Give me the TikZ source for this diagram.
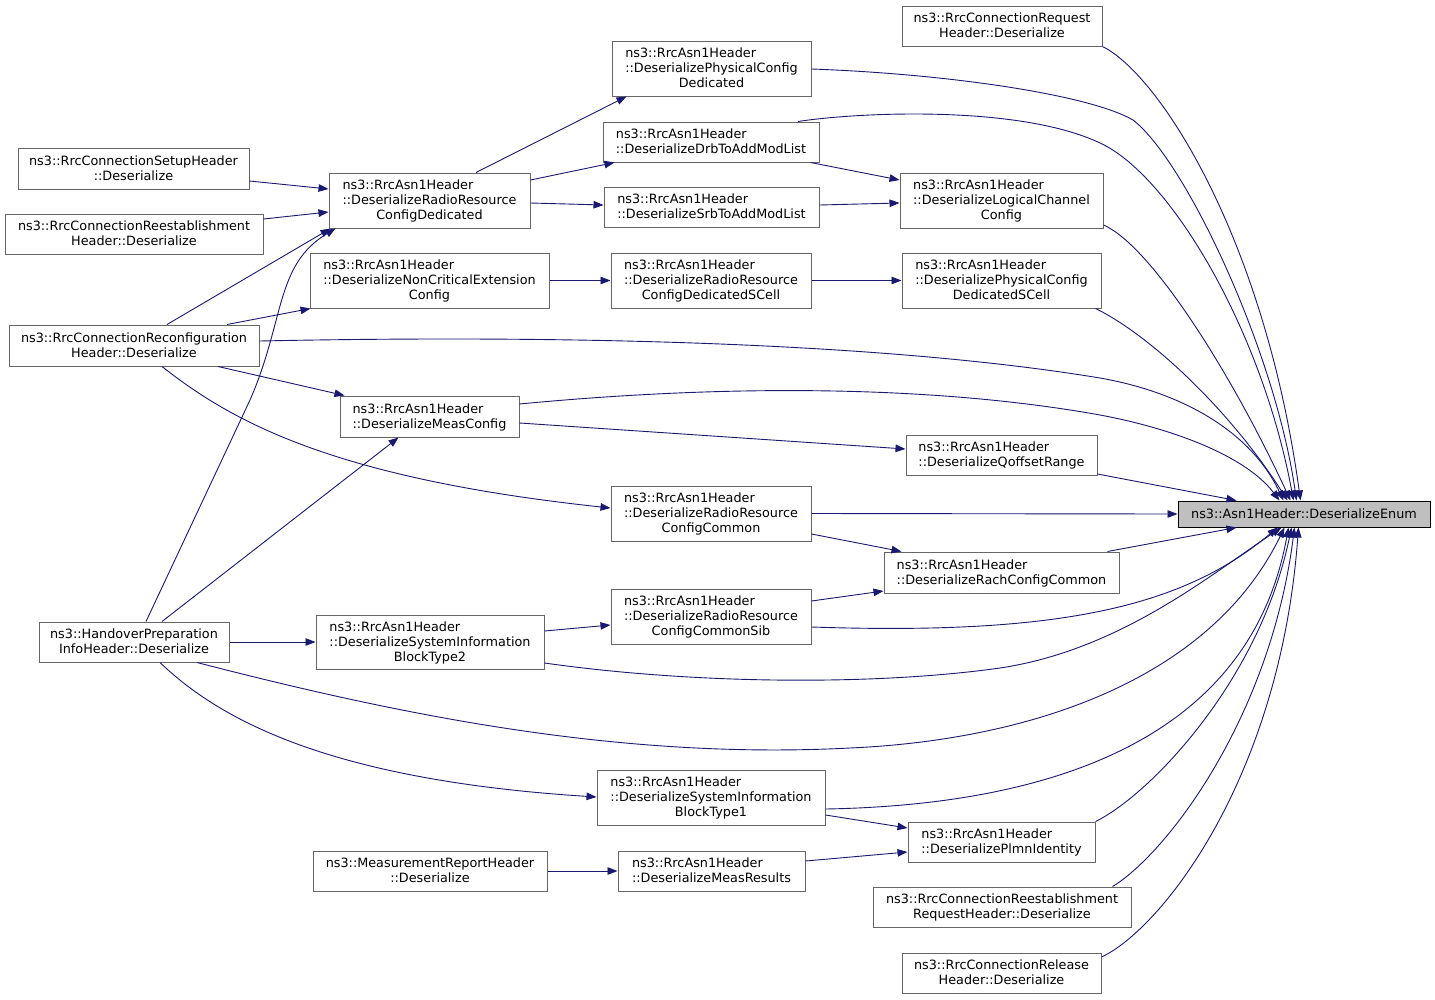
\documentclass[tikz,border=0pt]{standalone}
\usepackage{fontspec}
\setmainfont{DejaVu Sans}
\usetikzlibrary{arrows.meta}
\definecolor{edgeblue}{HTML}{191970}
\definecolor{boxgray}{HTML}{666666}
\definecolor{rootfill}{HTML}{BFBFBF}
\newcommand{\dxl}[1]{\multicolumn{1}{@{}l@{}}{#1}\\}
\newcommand{\doxlab}[2]{\raisebox{0pt}[\dimexpr\height+2pt\relax][\depth]{\begin{tabular}{@{}c@{}}#1#2\end{tabular}}}
\begin{document}
\begin{tikzpicture}[x=1pt,y=-1pt,
  dbox/.style={draw=boxgray, line width=1pt, fill=white, inner sep=1pt, align=center, text=black,
    font=\fontsize{12.8}{15}\selectfont},
  rootbox/.style={dbox, draw=black, fill=rootfill},
  ed/.style={draw=edgeblue, line width=0.9pt, -{Triangle[length=10pt,width=7.5pt]}}]
\useasboundingbox[fill=white] (0,0) rectangle (1435,999);

% nodes
\node[dbox, minimum width=200pt, minimum height=40pt] (req) at (1002,26) {\doxlab{\dxl{ns3::RrcConnectionRequest}}{Header::Deserialize}};
\node[dbox, minimum width=199pt, minimum height=55pt] (physded) at (711.5,68.5) {\doxlab{\dxl{ns3::RrcAsn1Header}\dxl{::DeserializePhysicalConfig}}{Dedicated}};
\node[dbox, minimum width=216pt, minimum height=40pt] (drb) at (711,142) {\doxlab{\dxl{ns3::RrcAsn1Header}}{::DeserializeDrbToAddModList}};
\node[dbox, minimum width=231pt, minimum height=41pt] (setup) at (133.5,168.5) {\doxlab{\dxl{ns3::RrcConnectionSetupHeader}}{::Deserialize}};
\node[dbox, minimum width=201pt, minimum height=55pt] (rrcded) at (429.5,200.5) {\doxlab{\dxl{ns3::RrcAsn1Header}\dxl{::DeserializeRadioResource}}{ConfigDedicated}};
\node[dbox, minimum width=215pt, minimum height=40pt] (srb) at (711.5,207) {\doxlab{\dxl{ns3::RrcAsn1Header}}{::DeserializeSrbToAddModList}};
\node[dbox, minimum width=203pt, minimum height=55pt] (logch) at (1001.5,200.5) {\doxlab{\dxl{ns3::RrcAsn1Header}\dxl{::DeserializeLogicalChannel}}{Config}};
\node[dbox, minimum width=258pt, minimum height=40pt] (reest) at (134,234) {\doxlab{\dxl{ns3::RrcConnectionReestablishment}}{Header::Deserialize}};
\node[dbox, minimum width=239pt, minimum height=55pt] (noncrit) at (429.5,280.5) {\doxlab{\dxl{ns3::RrcAsn1Header}\dxl{::DeserializeNonCriticalExtension}}{Config}};
\node[dbox, minimum width=200pt, minimum height=55pt] (rrcscell) at (711,280.5) {\doxlab{\dxl{ns3::RrcAsn1Header}\dxl{::DeserializeRadioResource}}{ConfigDedicatedSCell}};
\node[dbox, minimum width=199pt, minimum height=55pt] (physscell) at (1001.5,280.5) {\doxlab{\dxl{ns3::RrcAsn1Header}\dxl{::DeserializePhysicalConfig}}{DedicatedSCell}};
\node[dbox, minimum width=250pt, minimum height=41pt] (reconf) at (134,345.5) {\doxlab{\dxl{ns3::RrcConnectionReconfiguration}}{Header::Deserialize}};
\node[dbox, minimum width=179pt, minimum height=41pt] (measconf) at (429.5,416.5) {\doxlab{\dxl{ns3::RrcAsn1Header}}{::DeserializeMeasConfig}};
\node[dbox, minimum width=191pt, minimum height=40pt] (qoff) at (1001.5,455) {\doxlab{\dxl{ns3::RrcAsn1Header}}{::DeserializeQoffsetRange}};
\node[dbox, minimum width=200pt, minimum height=55pt] (rrccommon) at (711,513.5) {\doxlab{\dxl{ns3::RrcAsn1Header}\dxl{::DeserializeRadioResource}}{ConfigCommon}};
\node[rootbox, minimum width=252pt, minimum height=26pt] (enum) at (1304,514) {ns3::Asn1Header::DeserializeEnum};
\node[dbox, minimum width=235pt, minimum height=41pt] (rach) at (1001.5,572.5) {\doxlab{\dxl{ns3::RrcAsn1Header}}{::DeserializeRachConfigCommon}};
\node[dbox, minimum width=200pt, minimum height=55pt] (commonsib) at (711,616.5) {\doxlab{\dxl{ns3::RrcAsn1Header}\dxl{::DeserializeRadioResource}}{ConfigCommonSib}};
\node[dbox, minimum width=228pt, minimum height=54pt] (sib2) at (430,642) {\doxlab{\dxl{ns3::RrcAsn1Header}\dxl{::DeserializeSystemInformation}}{BlockType2}};
\node[dbox, minimum width=190pt, minimum height=40pt] (handover) at (134,642) {\doxlab{\dxl{ns3::HandoverPreparation}}{InfoHeader::Deserialize}};
\node[dbox, minimum width=228pt, minimum height=55pt] (sib1) at (711,797.5) {\doxlab{\dxl{ns3::RrcAsn1Header}\dxl{::DeserializeSystemInformation}}{BlockType1}};
\node[dbox, minimum width=187pt, minimum height=40pt] (plmn) at (1001.5,842) {\doxlab{\dxl{ns3::RrcAsn1Header}}{::DeserializePlmnIdentity}};
\node[dbox, minimum width=234pt, minimum height=40pt] (measrep) at (430,871) {\doxlab{\dxl{ns3::MeasurementReportHeader}}{::Deserialize}};
\node[dbox, minimum width=187pt, minimum height=40pt] (measres) at (711.5,871) {\doxlab{\dxl{ns3::RrcAsn1Header}}{::DeserializeMeasResults}};
\node[dbox, minimum width=258pt, minimum height=40pt] (reestreq) at (1002,907) {\doxlab{\dxl{ns3::RrcConnectionReestablishment}}{RequestHeader::Deserialize}};
\node[dbox, minimum width=199pt, minimum height=40pt] (release) at (1001.5,973) {\doxlab{\dxl{ns3::RrcConnectionRelease}}{Header::Deserialize}};

% edges
\draw[ed] ([shift={(0,12.5)}]setup.east) -- ([shift={(0,-11.5)}]rrcded.west);
\draw[ed] ([shift={(0,-15)}]reest.east) -- ([shift={(0,11.5)}]rrcded.west);
\draw[ed] ([shift={(33,0)}]reconf.north) -- ([shift={(2,0)}]rrcded.south west);
\draw[ed] ([shift={(12,0)}]handover.north) -- (250,400) .. controls (285,320) and (275,265) .. ([shift={(7,0)}]rrcded.south west);
\draw[ed] ([shift={(93,0)}]reconf.north) -- ([shift={(1,0)}]noncrit.south west);
\draw[ed] ([shift={(84,0)}]reconf.south) -- ([shift={(5,0)}]measconf.north west);
\draw[ed] ([shift={(28,0)}]reconf.south) .. controls (230,420) and (330,478) .. ([shift={(0,-5.5)}]rrccommon.west);
\draw[ed] ([shift={(0,-4.5)}]reconf.east) .. controls (600,334) and (900,345) .. (1100,378) .. controls (1180,392) and (1250,430) .. ([shift={(106,0)}]enum.north west);
\draw[ed] ([shift={(28,0)}]handover.north) -- ([shift={(-31,0)}]measconf.south);
\draw[ed] (handover.east) -- (sib2.west);
\draw[ed] ([shift={(63,0)}]handover.south) .. controls (400,715) and (620,760) .. (850,748) .. controls (1030,740) and (1210,680) .. ([shift={(107,0)}]enum.south west);
\draw[ed] ([shift={(26,0)}]handover.south) .. controls (220,720) and (330,780) .. ([shift={(0,-0.5)}]sib1.west);
\draw[ed] ([shift={(46.5,0)}]rrcded.north) -- ([shift={(15,0)}]physded.south west);
\draw[ed] ([shift={(0,-20.5)}]rrcded.east) -- ([shift={(12,0)}]drb.south west);
\draw[ed] ([shift={(0,2.5)}]rrcded.east) -- ([shift={(0,-2)}]srb.west);
\draw[ed] ([shift={(-9,0)}]drb.south east) -- ([shift={(0,-20.5)}]logch.west);
\draw[ed] ([shift={(0,-2)}]srb.east) -- ([shift={(0,2.5)}]logch.west);
\draw[ed] ([shift={(87,0)}]drb.north) .. controls (860,112) and (1020,105) .. (1100,143) .. controls (1170,175) and (1262,330) .. ([shift={(116,0)}]enum.north west);
\draw[ed] ([shift={(0,0.5)}]physded.east) .. controls (950,74) and (1090,95) .. (1133,120) .. controls (1185,160) and (1275,350) .. ([shift={(119,0)}]enum.north west);
\draw[ed] (req.south east) .. controls (1160,75) and (1265,240) .. ([shift={(123,0)}]enum.north west);
\draw[ed] ([shift={(0,24.5)}]logch.east) .. controls (1150,245) and (1230,370) .. ([shift={(113,0)}]enum.north west);
\draw[ed] ([shift={(-6,0)}]physscell.south east) .. controls (1150,335) and (1230,410) .. ([shift={(110,0)}]enum.north west);
\draw[ed] (noncrit.east) -- (rrcscell.west);
\draw[ed] (rrcscell.east) -- (physscell.west);
\draw[ed] ([shift={(0,-12.5)}]measconf.east) .. controls (750,382) and (950,388) .. (1100,415) .. controls (1170,428) and (1245,455) .. ([shift={(102,0)}]enum.north west);
\draw[ed] ([shift={(0,6.5)}]measconf.east) -- ([shift={(0,-6)}]qoff.west);
\draw[ed] ([shift={(0,19)}]qoff.east) -- ([shift={(59,0)}]enum.north west);
\draw[ed] (rrccommon.east) -- (enum.west);
\draw[ed] ([shift={(0,20.5)}]rrccommon.east) -- ([shift={(18,0)}]rach.north west);
\draw[ed] ([shift={(-12,0)}]rach.north east) -- ([shift={(59,0)}]enum.south west);
\draw[ed] ([shift={(0,-15.5)}]commonsib.east) -- ([shift={(0,18.5)}]rach.west);
\draw[ed] ([shift={(0,10.5)}]commonsib.east) .. controls (1050,635) and (1180,610) .. ([shift={(100,0)}]enum.south west);
\draw[ed] ([shift={(0,-11)}]sib2.east) -- ([shift={(0,8.5)}]commonsib.west);
\draw[ed] ([shift={(0,21)}]sib2.east) .. controls (700,685) and (880,685) .. (1000,668) .. controls (1120,650) and (1210,575) .. ([shift={(104,0)}]enum.south west);
\draw[ed] ([shift={(0,11.5)}]sib1.east) .. controls (1050,805) and (1250,740) .. ([shift={(111,0)}]enum.south west);
\draw[ed] ([shift={(0,17.5)}]sib1.east) -- ([shift={(0,-14)}]plmn.west);
\draw[ed] ([shift={(0,-10)}]measres.east) -- ([shift={(0,10)}]plmn.west);
\draw[ed] (measrep.east) -- (measres.west);
\draw[ed] (plmn.north east) .. controls (1150,795) and (1260,680) .. ([shift={(114,0)}]enum.south west);
\draw[ed] ([shift={(-19,0)}]reestreq.north east) .. controls (1165,855) and (1270,720) .. ([shift={(117,0)}]enum.south west);
\draw[ed] ([shift={(0,-16)}]release.east) .. controls (1160,930) and (1280,780) .. ([shift={(121,0)}]enum.south west);
\end{tikzpicture}
\end{document}
